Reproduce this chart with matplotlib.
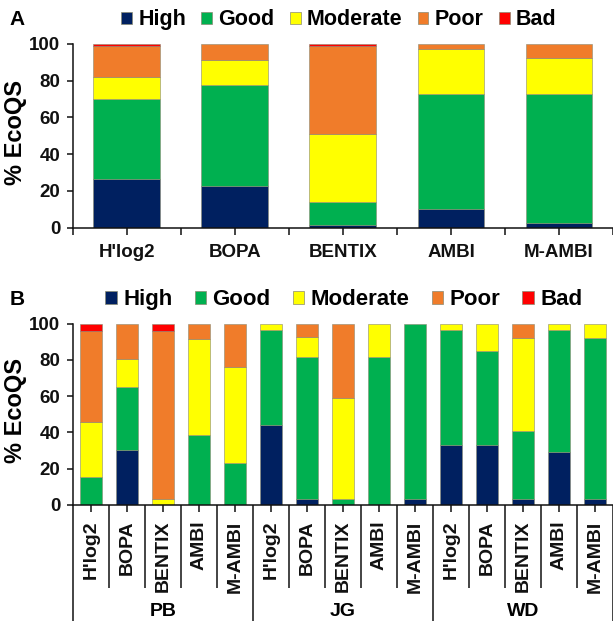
import matplotlib
matplotlib.use("Agg")
import matplotlib.pyplot as plt
from matplotlib.patches import Patch
import numpy as np

plt.rcParams["font.family"] = ["Liberation Sans", "DejaVu Sans"]
plt.rcParams["font.weight"] = "bold"
plt.rcParams["axes.labelweight"] = "bold"

# Ecological quality status classes and their colours
classes = ["High", "Good", "Moderate", "Poor", "Bad"]
class_colors = ["#002060", "#00B050", "#FFFF00", "#F07C2A", "#FF0000"]

indices = ["H'log2", "BOPA", "BENTIX", "AMBI", "M-AMBI"]
sites = ["PB", "JG", "WD"]

# Panel A: all sites pooled (% of samples per class)
a_high = [26.3, 22.6, 1.3, 10.0, 2.7]
a_good = [43.6, 55.0, 12.6, 62.5, 69.8]
a_moderate = [12.2, 13.5, 37.2, 24.6, 19.6]
a_poor = [16.9, 8.9, 47.6, 2.9, 7.9]
a_bad = [1.0, 0.0, 1.3, 0.0, 0.0]

# Panel B: per site (PB, JG, WD), five indices each
b_high = [0.0, 30.6, 0.0, 0.0, 0.0,
          44.3, 3.1, 0.0, 0.0, 3.1,
          33.3, 33.3, 3.1, 29.3, 3.1]
b_good = [15.4, 34.7, 0.0, 38.4, 23.1,
          52.1, 78.4, 3.1, 81.5, 96.9,
          63.1, 51.9, 37.5, 67.1, 89.2]
b_moderate = [30.4, 15.3, 3.1, 53.4, 53.3,
              3.6, 11.0, 55.8, 18.5, 0.0,
              3.6, 14.8, 51.7, 3.6, 7.7]
b_poor = [50.1, 19.4, 92.8, 8.2, 23.6,
          0.0, 7.5, 41.1, 0.0, 0.0,
          0.0, 0.0, 7.7, 0.0, 0.0]
b_bad = [4.1, 0.0, 4.1, 0.0, 0.0,
         0.0, 0.0, 0.0, 0.0, 0.0,
         0.0, 0.0, 0.0, 0.0, 0.0]

EDGE = "#8a8a72"
BAR_W = 0.62
INK = "#111111"


def stacked_bars(ax, series):
    n = len(series[0])
    x = np.arange(n)
    bottom = np.zeros(n)
    for vals, color, name in zip(series, class_colors, classes):
        vals = np.asarray(vals, dtype=float)
        bc = ax.bar(x, vals, BAR_W, bottom=bottom, color=color,
                    edgecolor=EDGE, linewidth=0.4, label=name, zorder=2)
        for rect, v in zip(bc, vals):
            if v == 0:
                rect.set_visible(False)
        bottom += vals
    ax.set_xlim(-0.5, n - 0.5)
    return x


def style_y(ax):
    ax.set_ylim(0, 100)
    ax.set_yticks(range(0, 101, 20))
    for s in ("top", "right"):
        ax.spines[s].set_visible(False)
    for s in ("left", "bottom"):
        ax.spines[s].set_linewidth(1.1)
        ax.spines[s].set_color(INK)
    ax.tick_params(axis="y", length=4, width=1.1, pad=5, labelsize=13.5,
                   colors=INK)
    ax.set_ylabel("% EcoQS", fontsize=17, fontweight="bold")
    ax.yaxis.set_label_coords(-0.085, 0.52)


def class_legend(center, size, colspace):
    handles = [Patch(facecolor=c, edgecolor=EDGE, linewidth=0.5)
               for c in class_colors]
    fig.legend(handles, classes, ncol=5, loc="center",
               bbox_to_anchor=center, frameon=False,
               prop={"size": size, "weight": "bold"},
               handlelength=0.5, handleheight=0.5, handletextpad=0.3,
               columnspacing=colspace, borderpad=0)


fig = plt.figure(figsize=(6.13, 6.21), dpi=100)
axA = fig.add_axes([0.119, 0.6333, 0.881, 0.2963])
axB = fig.add_axes([0.119, 0.1868, 0.881, 0.2919])

# ---- Panel A ----
xA = stacked_bars(axA, [a_high, a_good, a_moderate, a_poor, a_bad])
style_y(axA)
axA.set_xticks(xA, indices)
axA.set_xticks(np.arange(-0.5, len(xA)), minor=True)
axA.tick_params(axis="x", which="both", length=5, width=1.1, direction="out",
                colors=INK)
axA.tick_params(axis="x", which="major", pad=7, labelsize=13.5)

class_legend((0.553, 0.968), 15.5, 0.7)
fig.text(0.016, 0.968, "A", fontsize=15, fontweight="bold", va="center")

# ---- Panel B ----
xB = stacked_bars(axB, [b_high, b_good, b_moderate, b_poor, b_bad])
style_y(axB)
axB.set_xticks(xB, indices * len(sites), rotation=90, va="top", ha="center")
axB.tick_params(axis="x", which="major", length=5, width=1.1, pad=6,
                labelsize=14, colors=INK)

xt = axB.get_xaxis_transform()
n_per = len(indices)
for b in np.arange(-0.5, len(xB)):
    k = int(round(b + 0.5))
    y_end = -0.64 if k % n_per == 0 else -0.458
    axB.plot([b, b], [0, y_end], color=INK, lw=1.1, transform=xt,
             clip_on=False, solid_capstyle="butt")
for g, site in enumerate(sites):
    xc = g * n_per + (n_per - 1) / 2
    axB.text(xc, -0.585, site, transform=xt, ha="center", va="center",
             fontsize=14, fontweight="bold")

class_legend((0.561, 0.517), 16, 1.0)
fig.text(0.016, 0.517, "B", fontsize=15, fontweight="bold", va="center")

fig.savefig("out.png", dpi=100)
